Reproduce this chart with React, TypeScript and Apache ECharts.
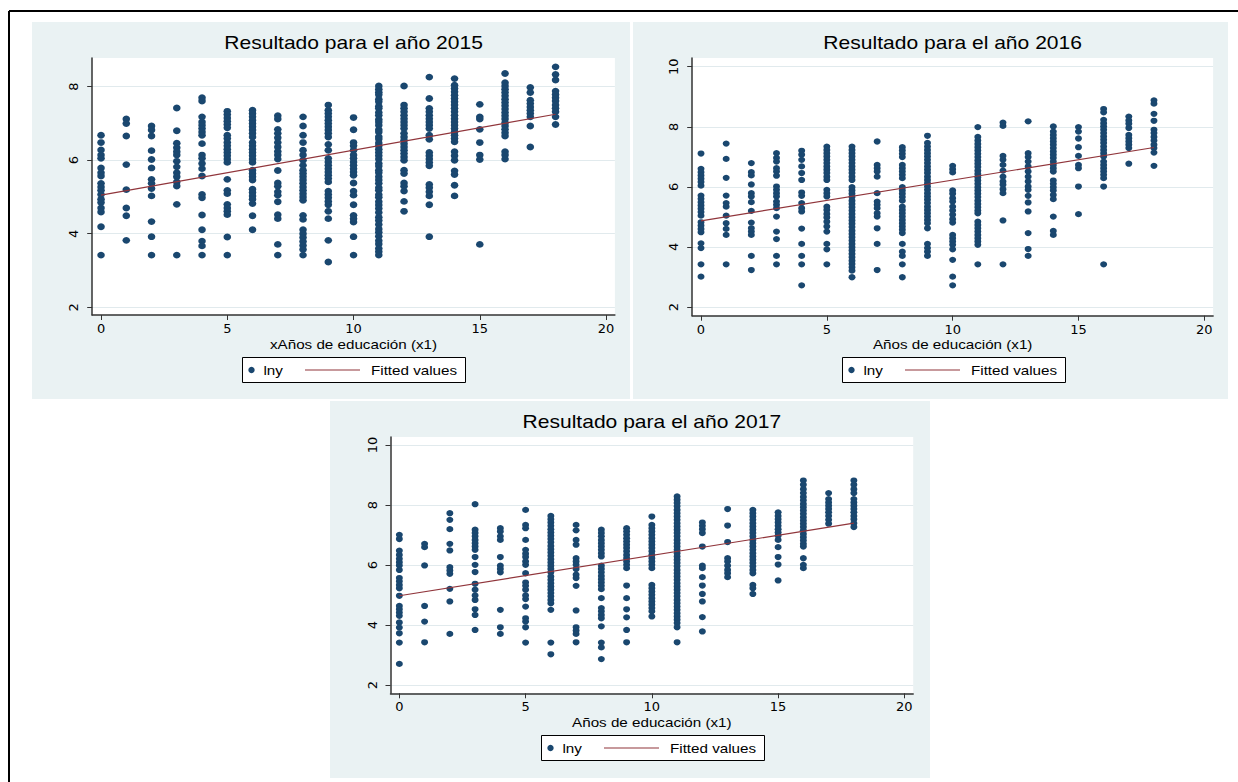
import React, { useEffect, useRef } from "react";
import * as echarts from "echarts";

// ---------- DATA ----------
const educYears = [0, 1, 2, 3, 4, 5, 6, 7, 8, 9, 10, 11, 12, 13, 14, 15, 16, 17, 18];

// lny values per year of education (index = educYears)
const lny2015: number[][] = [
  [6.68, 6.48, 6.28, 6.14, 6.05, 5.79, 5.66, 5.57, 5.37, 5.27, 5.18, 5.07, 4.94, 4.85, 4.7, 4.59, 4.19, 3.42],
  [7.12, 7.0, 6.66, 5.88, 5.2, 4.7, 4.49, 3.82],
  [6.93, 6.82, 6.66, 6.26, 6.02, 5.79, 5.48, 5.37, 5.23, 5.03, 4.33, 3.92, 3.42],
  [7.42, 6.8, 6.46, 6.34, 6.23, 6.14, 5.97, 5.82, 5.66, 5.55, 5.41, 5.3, 4.8, 3.42],
  [7.7, 7.61, 7.18, 7.04, 6.95, 6.86, 6.77, 6.68, 6.45, 6.14, 6.05, 5.91, 5.77, 5.57, 5.07, 4.98, 4.51, 4.11, 3.8, 3.67, 3.42],
  [7.33, 7.24, 7.15, 7.06, 6.97, 6.88, 6.68, 6.59, 6.48, 6.39, 6.3, 6.21, 6.12, 6.03, 5.94, 5.48, 5.18, 5.09, 4.8, 4.7, 4.61, 4.52, 3.91, 3.42],
  [7.36, 7.27, 7.18, 7.09, 7.0, 6.91, 6.82, 6.73, 6.63, 6.48, 6.39, 6.3, 6.21, 6.12, 6.03, 5.94, 5.73, 5.64, 5.55, 5.46, 5.21, 5.12, 5.03, 4.94, 4.82, 4.49, 4.11],
  [7.21, 7.12, 6.84, 6.73, 6.61, 6.48, 6.36, 6.24, 6.14, 6.03, 5.72, 5.38, 5.29, 5.14, 5.05, 4.87, 4.52, 4.41, 3.71, 3.42],
  [7.18, 6.93, 6.68, 6.48, 6.27, 6.14, 6.0, 5.86, 5.73, 5.64, 5.55, 5.46, 5.37, 5.27, 5.18, 5.09, 5.0, 4.91, 4.5, 4.39, 4.11, 4.0, 3.9, 3.79, 3.68, 3.57, 3.42],
  [7.5, 7.36, 7.27, 7.18, 7.09, 7.0, 6.91, 6.82, 6.73, 6.63, 6.43, 6.27, 6.05, 5.95, 5.86, 5.77, 5.68, 5.59, 5.5, 5.41, 5.16, 5.07, 4.98, 4.88, 4.79, 4.61, 4.41, 3.82, 3.23],
  [7.16, 6.83, 6.48, 6.39, 6.27, 6.14, 6.05, 5.95, 5.86, 5.77, 5.68, 5.59, 5.38, 5.16, 5.05, 4.79, 4.5, 4.41, 4.32, 3.92, 3.42],
  [8.02, 7.93, 7.85, 7.78, 7.66, 7.59, 7.47, 7.41, 7.3, 7.22, 7.11, 7.04, 6.95, 6.83, 6.77, 6.64, 6.58, 6.47, 6.39, 6.3, 6.21, 6.12, 6.03, 5.91, 5.84, 5.73, 5.66, 5.55, 5.46, 5.37, 5.25, 5.18, 5.06, 4.99, 4.87, 4.78, 4.69, 4.58, 4.45, 4.36, 4.25, 4.13, 4.04, 3.93, 3.81, 3.72, 3.6, 3.51, 3.42],
  [8.02, 7.5, 7.41, 7.32, 7.22, 7.13, 7.04, 6.95, 6.86, 6.73, 6.63, 6.54, 6.45, 6.36, 6.27, 6.18, 6.09, 6.0, 5.73, 5.64, 5.38, 5.29, 5.16, 4.88, 4.61],
  [8.26, 7.68, 7.41, 7.32, 7.22, 7.13, 7.04, 6.95, 6.86, 6.68, 6.57, 6.21, 6.12, 6.03, 5.94, 5.85, 5.34, 5.25, 5.14, 5.03, 4.79, 3.92],
  [8.22, 8.04, 7.95, 7.86, 7.77, 7.68, 7.59, 7.5, 7.41, 7.32, 7.22, 7.13, 7.04, 6.95, 6.86, 6.77, 6.68, 6.59, 6.5, 6.23, 6.12, 6.0, 5.71, 5.61, 5.32, 5.03],
  [7.52, 7.18, 7.12, 6.84, 6.48, 6.14, 6.02, 3.71],
  [8.36, 8.11, 8.02, 7.93, 7.84, 7.75, 7.66, 7.57, 7.48, 7.39, 7.3, 7.21, 7.12, 7.02, 6.93, 6.84, 6.75, 6.66, 6.23, 6.14, 6.03],
  [7.98, 7.84, 7.63, 7.54, 7.45, 7.36, 7.27, 7.18, 6.93, 6.36],
  [8.54, 8.33, 8.18, 7.88, 7.79, 7.7, 7.61, 7.5, 7.41, 7.32, 7.18, 6.97],
];

const lny2016: number[][] = [
  [7.11, 6.6, 6.49, 6.38, 6.27, 6.16, 6.04, 5.71, 5.6, 5.49, 5.38, 5.27, 5.16, 5.04, 4.82, 4.71, 4.6, 4.49, 4.12, 3.96, 3.42, 3.01],
  [7.44, 6.93, 6.3, 5.71, 5.46, 5.34, 5.04, 4.79, 4.6, 4.4, 3.42],
  [6.79, 6.49, 6.38, 6.08, 5.79, 5.68, 5.49, 5.2, 4.81, 4.62, 4.51, 4.4, 3.7, 3.23],
  [7.12, 6.96, 6.84, 6.62, 6.51, 6.37, 6.01, 5.9, 5.79, 5.68, 5.51, 5.4, 5.29, 5.01, 4.51, 4.26, 3.7, 3.42],
  [7.2, 7.07, 6.9, 6.68, 6.46, 6.23, 5.81, 5.7, 5.46, 5.29, 5.18, 4.61, 4.1, 3.7, 3.42, 2.72],
  [7.34, 7.23, 7.12, 7.01, 6.9, 6.79, 6.68, 6.57, 6.46, 6.34, 6.23, 5.9, 5.79, 5.68, 5.34, 5.23, 5.1, 4.98, 4.84, 4.68, 4.51, 4.1, 3.92, 3.42],
  [7.34, 7.23, 7.12, 7.01, 6.9, 6.79, 6.68, 6.57, 6.46, 6.34, 6.23, 5.99, 5.88, 5.77, 5.66, 5.54, 5.43, 5.32, 5.21, 5.1, 4.99, 4.88, 4.77, 4.66, 4.54, 4.43, 4.32, 4.21, 4.1, 3.99, 3.88, 3.77, 3.66, 3.54, 3.43, 3.32, 3.21, 2.99],
  [7.51, 6.73, 6.62, 6.51, 6.34, 5.79, 5.51, 5.4, 5.29, 5.12, 5.01, 4.62, 4.1, 3.23],
  [7.32, 7.21, 7.1, 6.99, 6.73, 6.62, 6.51, 6.4, 6.29, 5.99, 5.88, 5.77, 5.66, 5.54, 5.34, 5.23, 5.12, 5.01, 4.9, 4.79, 4.68, 4.57, 4.46, 4.1, 3.84, 3.7, 3.42, 2.99],
  [7.7, 7.46, 7.34, 7.23, 7.12, 7.01, 6.9, 6.79, 6.68, 6.57, 6.46, 6.34, 6.23, 6.12, 6.01, 5.9, 5.79, 5.68, 5.57, 5.46, 5.34, 5.23, 5.12, 5.01, 4.9, 4.79, 4.62, 4.1, 3.96, 3.84, 3.7],
  [6.7, 6.59, 6.48, 5.88, 5.77, 5.62, 5.51, 5.34, 5.21, 5.07, 4.92, 4.81, 4.4, 4.29, 4.18, 4.07, 3.92, 3.57, 3.01, 2.72],
  [7.99, 7.66, 7.54, 7.43, 7.32, 7.21, 7.1, 6.99, 6.88, 6.77, 6.66, 6.54, 6.43, 6.32, 6.21, 6.1, 5.99, 5.88, 5.77, 5.66, 5.54, 5.43, 5.32, 5.21, 5.12, 4.84, 4.73, 4.62, 4.51, 4.4, 4.29, 4.18, 4.07, 3.42],
  [8.14, 8.03, 7.03, 6.9, 6.73, 6.54, 6.34, 6.18, 6.07, 5.92, 5.79, 4.88, 3.42],
  [8.18, 7.12, 6.99, 6.84, 6.68, 6.51, 6.34, 6.18, 6.01, 5.9, 5.7, 5.48, 5.18, 4.46, 3.93, 3.7],
  [8.01, 7.84, 7.73, 7.62, 7.51, 7.4, 7.29, 7.18, 7.07, 6.96, 6.84, 6.73, 6.62, 6.51, 6.21, 6.1, 5.99, 5.88, 5.73, 5.59, 5.01, 4.53, 4.4],
  [7.99, 7.84, 7.61, 7.32, 7.03, 6.73, 6.62, 6.01, 5.09],
  [8.59, 8.48, 8.23, 8.12, 8.01, 7.9, 7.79, 7.68, 7.57, 7.46, 7.34, 7.23, 7.12, 7.01, 6.84, 6.73, 6.62, 6.51, 6.4, 6.29, 6.01, 3.42],
  [8.34, 8.21, 8.1, 7.96, 7.73, 7.62, 7.51, 7.4, 7.29, 6.77],
  [8.88, 8.77, 8.43, 8.2, 7.9, 7.79, 7.66, 7.54, 7.4, 7.29, 7.14, 6.7],
];

const lny2017: number[][] = [
  [7.01, 6.87, 6.48, 6.34, 6.21, 6.1, 5.99, 5.84, 5.57, 5.46, 5.34, 5.23, 4.98, 4.64, 4.53, 4.42, 4.31, 4.09, 3.92, 3.73, 3.42, 2.71],
  [6.71, 6.6, 5.99, 4.64, 4.12, 3.43],
  [7.73, 7.51, 7.2, 6.71, 6.49, 5.93, 5.82, 5.71, 5.21, 4.79, 3.71],
  [8.03, 7.18, 7.07, 6.96, 6.84, 6.73, 6.62, 6.51, 6.27, 6.01, 5.77, 5.38, 5.18, 4.99, 4.84, 4.53, 4.34, 3.84],
  [7.23, 7.12, 6.96, 6.84, 6.27, 5.98, 5.87, 5.76, 4.51, 3.93, 3.71],
  [7.84, 7.34, 7.23, 6.84, 6.51, 6.38, 6.27, 6.12, 6.01, 5.73, 5.42, 5.31, 5.18, 4.99, 4.87, 4.62, 4.23, 4.12, 3.93, 3.42],
  [7.64, 7.53, 7.42, 7.31, 7.2, 7.09, 6.98, 6.87, 6.76, 6.64, 6.53, 6.42, 6.31, 6.2, 6.09, 5.98, 5.87, 5.76, 5.62, 5.51, 5.4, 5.29, 5.18, 5.07, 4.96, 4.84, 4.73, 4.51, 3.42, 3.03],
  [7.34, 7.16, 6.84, 6.68, 6.23, 6.12, 6.01, 5.87, 5.68, 5.57, 5.31, 4.49, 3.93, 3.82, 3.71, 3.43],
  [7.18, 7.07, 6.96, 6.84, 6.73, 6.62, 6.51, 6.4, 6.29, 5.98, 5.87, 5.76, 5.64, 5.53, 5.42, 5.31, 5.2, 4.9, 4.57, 4.46, 4.34, 4.23, 3.96, 3.42, 3.26, 2.87],
  [7.23, 7.12, 7.01, 6.9, 6.79, 6.68, 6.57, 6.46, 6.34, 6.23, 6.12, 6.01, 5.9, 5.32, 4.9, 4.53, 4.26, 3.84, 3.43],
  [7.62, 7.34, 7.23, 7.12, 7.01, 6.9, 6.79, 6.68, 6.57, 6.46, 6.34, 6.23, 6.12, 6.01, 5.9, 5.34, 5.23, 5.12, 5.01, 4.9, 4.79, 4.68, 4.57, 4.46, 4.29],
  [8.29, 8.18, 8.07, 7.96, 7.84, 7.73, 7.62, 7.51, 7.4, 7.29, 7.18, 7.07, 6.96, 6.84, 6.73, 6.62, 6.51, 6.4, 6.29, 6.18, 6.07, 5.96, 5.84, 5.73, 5.62, 5.51, 5.4, 5.29, 5.18, 5.07, 4.96, 4.84, 4.73, 4.62, 4.51, 4.4, 4.29, 4.18, 4.07, 3.93, 3.43],
  [7.42, 7.31, 7.2, 7.07, 6.62, 5.98, 5.9, 5.6, 5.32, 5.04, 4.79, 4.27, 3.79],
  [7.87, 7.32, 6.77, 6.23, 6.12, 5.98, 5.84, 5.73, 5.6],
  [7.84, 7.73, 7.62, 7.51, 7.4, 7.29, 7.18, 7.07, 6.96, 6.84, 6.73, 6.62, 6.51, 6.4, 6.29, 6.18, 6.07, 5.96, 5.84, 5.73, 5.34, 5.23, 5.04],
  [7.76, 7.64, 7.53, 7.42, 7.31, 7.2, 7.09, 6.98, 6.84, 6.6, 6.27, 6.02, 5.49],
  [8.82, 8.68, 8.53, 8.4, 8.27, 8.16, 8.04, 7.93, 7.82, 7.71, 7.6, 7.49, 7.38, 7.27, 7.16, 7.04, 6.93, 6.82, 6.71, 6.62, 6.23, 6.01, 5.9],
  [8.4, 8.2, 8.09, 7.98, 7.87, 7.76, 7.64, 7.51, 7.38],
  [8.82, 8.68, 8.53, 8.4, 8.2, 8.09, 7.98, 7.87, 7.76, 7.64, 7.53, 7.4, 7.27],
];

// fitted values at the ends of the education range
const fitX = [0, 18];
const fit2015 = [5.05, 7.25];
const fit2016 = [4.87, 7.31];
const fit2017 = [4.98, 7.4];

const xTicks = [0, 5, 10, 15, 20];
const yTicks2015 = [2, 4, 6, 8];
const yTicks2016 = [2, 4, 6, 8, 10];
const yTicks2017 = [2, 4, 6, 8, 10];

const titles = ["Resultado para el año 2015", "Resultado para el año 2016", "Resultado para el año 2017"];
const xTitles = ["xAños de educación (x1)", "Años de educación (x1)", "Años de educación (x1)"];
const legendLabels = ["lny", "Fitted values"];

// ---------- STYLE / LAYOUT ----------
const NAVY = "#1A476F";
const MAROON = "#90353B";
const BG = "#EAF2F3";
const GRIDLINE = "#E1EAED";
const AXIS = "#333";
const FONT = '"Liberation Sans", Arial, Helvetica, sans-serif';
const TICK_FONT = '"DejaVu Sans", "Liberation Sans", sans-serif';
const SX = 1.17;
const X_MIN = -0.35;
const X_MAX = 20.35;

const panels = [
  {
    values: lny2015, fit: fit2015, yTicks: yTicks2015, yMin: 1.79, yMax: 8.78,
    bg: [32, 22, 598, 377], grid: { left: 92.2, top: 58, width: 522.7, height: 257 },
    dot: [7.6, 6.8], titleY: 43, xTitleY: 344, legend: [354, 370],
  },
  {
    values: lny2016, fit: fit2016, yTicks: yTicks2016, yMin: 1.71, yMax: 10.29,
    bg: [633, 22, 595, 377], grid: { left: 692.2, top: 58, width: 520.9, height: 257.7 },
    dot: [7.0, 6.2], titleY: 43, xTitleY: 344, legend: [954, 370],
  },
  {
    values: lny2017, fit: fit2017, yTicks: yTicks2017, yMin: 1.73, yMax: 10.27,
    bg: [330, 401, 600, 377], grid: { left: 390.5, top: 437, width: 522.7, height: 256.3 },
    dot: [7.0, 6.2], titleY: 422, xTitleY: 722, legend: [653, 748],
  },
];

function txt(text: string, x: number, y: number, size: number, align: string = "center") {
  return {
    type: "text", x, y, scaleX: SX, z: 10, silent: true,
    style: { text, fontSize: size, fontFamily: FONT, fill: "#000", align, verticalAlign: "middle" },
  };
}

function buildOption() {
  const graphic: any[] = [];
  // outer frame
  graphic.push({ type: "line", z: 5, shape: { x1: 9, y1: 11, x2: 1238, y2: 11 }, style: { stroke: "#000", lineWidth: 2 } });
  graphic.push({ type: "line", z: 5, shape: { x1: 9, y1: 11, x2: 9, y2: 782 }, style: { stroke: "#000", lineWidth: 2 } });

  panels.forEach((p, i) => {
    const [bx, by, bw, bh] = p.bg;
    graphic.push({ type: "rect", z: -10, silent: true, shape: { x: bx, y: by, width: bw, height: bh }, style: { fill: BG } });
    graphic.push({ type: "rect", z: -9, silent: true, shape: { x: p.grid.left, y: p.grid.top, width: p.grid.width, height: p.grid.height }, style: { fill: "#fff" } });
    const cx = p.grid.left + p.grid.width / 2;
    graphic.push(txt(titles[i], cx, p.titleY, 18));
    graphic.push(txt(xTitles[i], cx, p.xTitleY, 13));
    const [lx, ly] = p.legend;
    graphic.push({ type: "rect", z: 9, silent: true, shape: { x: lx - 111.5, y: ly - 12.5, width: 223, height: 25 }, style: { fill: "#fff", stroke: "#000", lineWidth: 1 } });
    graphic.push({ type: "circle", z: 10, silent: true, shape: { cx: lx - 102.5, cy: ly, r: 3.2 }, style: { fill: NAVY } });
    graphic.push(txt(legendLabels[0], lx - 90.5, ly, 13, "left"));
    graphic.push({ type: "line", z: 10, silent: true, shape: { x1: lx - 49, y1: ly, x2: lx + 6, y2: ly }, style: { stroke: MAROON, lineWidth: 1.2 } });
    graphic.push(txt(legendLabels[1], lx + 17, ly, 13, "left"));
  });

  const series: any[] = [];
  panels.forEach((p, i) => {
    series.push({
      name: legendLabels[0], type: "scatter", xAxisIndex: i, yAxisIndex: i, z: 2,
      symbol: "circle", symbolSize: p.dot,
      itemStyle: { color: NAVY, opacity: 1 },
      data: educYears.flatMap((x, k) => p.values[k].map((v) => [x, v])),
      silent: true,
    });
    series.push({
      name: legendLabels[1], type: "line", xAxisIndex: i, yAxisIndex: i, z: 3,
      showSymbol: false, symbol: "none",
      lineStyle: { color: MAROON, width: 1.2 },
      data: fitX.map((x, k) => [x, p.fit[k]]),
      silent: true,
    });
  });

  return {
    animation: false,
    backgroundColor: "#fff",
    grid: panels.map((p) => ({ ...p.grid, show: false, containLabel: false })),
    xAxis: panels.map((p, i) => ({
      type: "value", gridIndex: i, min: X_MIN, max: X_MAX,
      axisLine: { show: true, onZero: false, lineStyle: { color: AXIS, width: 1.5 } },
      axisTick: { show: true, length: 5, customValues: xTicks, lineStyle: { color: AXIS, width: 1 } },
      axisLabel: { customValues: xTicks, margin: 7, fontSize: 13, fontFamily: TICK_FONT, color: "#000" },
      splitLine: { show: false },
    })),
    yAxis: panels.map((p, i) => ({
      type: "value", gridIndex: i, min: p.yMin, max: p.yMax,
      axisLine: { show: true, onZero: false, lineStyle: { color: AXIS, width: 1.5 } },
      axisTick: { show: true, length: 5, customValues: p.yTicks, lineStyle: { color: AXIS, width: 1 } },
      axisLabel: { customValues: p.yTicks, rotate: 90, margin: 12, fontSize: 13, fontFamily: TICK_FONT, color: "#000" },
      splitLine: { show: true, lineStyle: { color: GRIDLINE, width: 1.2 } },
    })),
    series,
    graphic,
  };
}

export default function App() {
  const ref = useRef<HTMLDivElement>(null);
  useEffect(() => {
    if (!ref.current) return;
    const chart = echarts.init(ref.current, undefined, { renderer: "svg" });
    chart.setOption(buildOption() as any);
    return () => chart.dispose();
  }, []);
  return (
    <div
      ref={ref}
      style={{ position: "fixed", left: 0, top: 0, width: 1238, height: 782, background: "#fff" }}
    />
  );
}
